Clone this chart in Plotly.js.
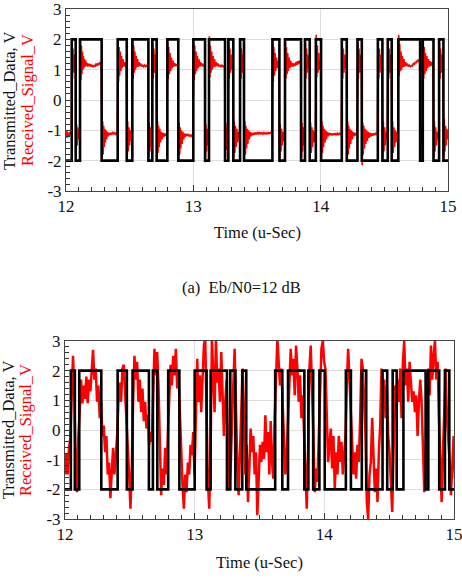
<!DOCTYPE html>
<html>
<head>
<meta charset="utf-8">
<script src="https://cdn.plot.ly/plotly-3.0.1.min.js"></script>
<style>
  html, body { margin: 0; padding: 0; background: #fff; }
  #chart { width: 462px; height: 587px; }
</style>
</head>
<body>
<div id="chart"></div>
<script>
// Transmitted bit stream: edge times (u-Sec) and the level held from each edge on
const txTime = [12.000,
  12.045, 12.076, 12.110, 12.280, 12.406, 12.477, 12.521, 12.647, 12.678, 12.712,
  12.796, 12.882, 13.000, 13.092, 13.123, 13.249, 13.275, 13.314, 13.367, 13.398,
  13.621, 13.676, 13.720, 13.846, 13.877, 13.914, 13.962, 14.003, 14.166, 14.205,
  14.289, 14.323, 14.449, 14.485, 14.527, 14.558, 14.610, 14.781, 14.802, 14.886,
  14.930, 14.964,
  15.000];
const txLevel = [-2,
  2, -2, 2, -2, 2, -2, 2, -2, 2, -2,
  2, -2, 2, -2, 2, -2, 2, -2, 2, -2,
  2, -2, 2, -2, 2, -2, 2, -2, 2, -2,
  2, -2, 2, -2, 2, -2, 2, -2, 2, -2,
  2, -2,
  -2];

// Received signal at Eb/N0 = 12 dB: [time (u-Sec), volts]
const receivedA = [
  [12.000,-1.15],[12.004,-1.00],[12.008,-1.25],[12.012,-1.05],[12.016,-1.20],[12.020,-1.10],[12.025,-1.22],[12.030,-1.05],[12.036,-1.15],[12.042,-1.10],
  [12.047,1.95],[12.051,0.70],[12.055,1.70],[12.060,0.90],[12.065,1.50],[12.070,1.20],[12.074,1.30],
  [12.079,-1.60],[12.083,-0.80],[12.088,-1.50],[12.093,-0.90],[12.098,-1.30],[12.103,-1.00],[12.108,-1.20],
  [12.113,1.95],[12.117,0.65],[12.121,1.80],[12.125,0.85],[12.129,1.60],[12.133,1.00],[12.137,1.45],[12.141,1.05],[12.145,1.35],[12.150,1.10],[12.155,1.30],[12.160,1.12],[12.166,1.22],[12.172,1.10],[12.178,1.20],[12.185,1.12],[12.192,1.18],[12.199,1.10],[12.206,1.16],[12.213,1.08],[12.220,1.15],[12.228,1.10],[12.236,1.20],[12.244,1.12],[12.252,1.22],[12.260,1.15],[12.268,1.25],[12.276,1.20],
  [12.284,-1.95],[12.288,-0.70],[12.292,-1.80],[12.296,-0.85],[12.300,-1.55],[12.304,-0.95],[12.309,-1.40],[12.314,-1.00],[12.319,-1.30],[12.325,-1.05],[12.331,-1.20],[12.338,-1.08],[12.345,-1.15],[12.352,-1.08],[12.360,-1.13],[12.368,-1.07],[12.376,-1.12],[12.384,-1.08],[12.392,-1.14],[12.402,-1.10],
  [12.409,1.90],[12.413,0.60],[12.417,1.75],[12.421,0.80],[12.426,1.60],[12.431,0.95],[12.436,1.45],[12.441,1.05],[12.447,1.35],[12.453,1.10],[12.459,1.25],[12.465,1.12],[12.473,1.20],
  [12.480,-2.05],[12.484,-0.70],[12.489,-1.70],[12.494,-0.90],[12.499,-1.50],[12.505,-1.00],[12.511,-1.35],[12.518,-1.10],
  [12.524,1.95],[12.528,0.70],[12.532,1.80],[12.536,0.90],[12.541,1.60],[12.546,1.00],[12.551,1.45],[12.556,1.08],[12.562,1.35],[12.568,1.10],[12.574,1.25],[12.580,1.12],[12.587,1.20],[12.594,1.10],[12.602,1.16],[12.610,1.10],[12.618,1.15],[12.626,1.10],[12.634,1.14],[12.643,1.10],
  [12.650,-1.90],[12.654,-0.75],[12.659,-1.70],[12.664,-0.90],[12.669,-1.50],[12.675,-1.05],
  [12.681,1.90],[12.685,0.70],[12.690,1.70],[12.695,0.90],[12.700,1.50],[12.708,1.05],
  [12.715,-1.90],[12.719,-0.70],[12.723,-1.75],[12.727,-0.85],[12.732,-1.55],[12.737,-0.95],[12.742,-1.40],[12.748,-1.05],[12.754,-1.30],[12.760,-1.08],[12.767,-1.22],[12.774,-1.10],[12.781,-1.18],[12.792,-1.10],
  [12.799,1.90],[12.803,0.70],[12.807,1.75],[12.812,0.85],[12.817,1.55],[12.822,0.95],[12.828,1.40],[12.834,1.05],[12.840,1.30],[12.846,1.10],[12.853,1.22],[12.860,1.12],[12.867,1.18],[12.878,1.10],
  [12.885,-1.95],[12.889,-0.75],[12.893,-1.80],[12.897,-0.90],[12.902,-1.60],[12.907,-1.00],[12.912,-1.45],[12.918,-1.05],[12.924,-1.30],[12.930,-1.10],[12.937,-1.22],[12.944,-1.12],[12.951,-1.18],[12.958,-1.12],[12.966,-1.20],[12.974,-1.14],[12.982,-1.20],[12.990,-1.15],[12.997,-1.18],
  [13.003,1.90],[13.007,0.65],[13.011,1.80],[13.016,0.85],[13.021,1.60],[13.026,0.95],[13.032,1.45],[13.038,1.05],[13.044,1.35],[13.050,1.10],[13.057,1.25],[13.064,1.12],[13.071,1.20],[13.078,1.10],[13.088,1.16],
  [13.095,-2.05],[13.099,-0.80],[13.104,-1.70],[13.109,-0.95],[13.114,-1.50],[13.120,-1.10],
  [13.126,2.10],[13.130,0.75],[13.134,1.80],[13.139,0.90],[13.144,1.60],[13.149,1.00],[13.155,1.45],[13.161,1.08],[13.167,1.35],[13.173,1.10],[13.180,1.25],[13.187,1.12],[13.194,1.20],[13.201,1.10],[13.209,1.16],[13.217,1.10],[13.225,1.15],[13.233,1.10],[13.245,1.13],
  [13.252,-1.90],[13.256,-0.75],[13.261,-1.65],[13.266,-0.95],[13.272,-1.40],
  [13.278,1.90],[13.282,0.70],[13.287,1.70],[13.292,0.90],[13.298,1.50],[13.304,1.00],[13.311,1.30],
  [13.317,-1.90],[13.321,-0.70],[13.326,-1.75],[13.331,-0.85],[13.336,-1.55],[13.342,-0.95],[13.348,-1.40],[13.354,-1.05],[13.363,-1.30],
  [13.370,1.90],[13.374,0.70],[13.379,1.70],[13.384,0.90],[13.389,1.50],[13.395,1.10],
  [13.401,-1.95],[13.405,-0.70],[13.409,-1.80],[13.413,-0.85],[13.418,-1.60],[13.423,-0.95],[13.428,-1.45],[13.434,-1.00],[13.440,-1.30],[13.446,-1.05],[13.453,-1.20],[13.460,-1.08],[13.467,-1.16],[13.475,-1.08],[13.483,-1.14],[13.491,-1.07],[13.499,-1.13],[13.507,-1.07],[13.515,-1.12],[13.523,-1.06],[13.531,-1.12],[13.539,-1.08],[13.547,-1.13],[13.555,-1.07],[13.563,-1.12],[13.571,-1.08],[13.579,-1.13],[13.587,-1.06],[13.595,-1.11],[13.603,-1.07],[13.611,-1.10],[13.618,-1.08],
  [13.624,1.90],[13.628,0.60],[13.632,1.75],[13.637,0.80],[13.642,1.55],[13.647,0.95],[13.653,1.40],[13.659,1.05],[13.665,1.30],[13.672,1.10],
  [13.679,-2.05],[13.683,-0.80],[13.688,-1.70],[13.693,-0.95],[13.698,-1.50],[13.704,-1.05],[13.710,-1.35],[13.717,-1.10],
  [13.723,1.90],[13.727,0.70],[13.731,1.75],[13.736,0.85],[13.741,1.55],[13.746,0.95],[13.752,1.40],[13.758,1.05],[13.764,1.30],[13.770,1.10],[13.777,1.22],[13.784,1.10],[13.791,1.20],[13.798,1.12],[13.805,1.25],[13.812,1.15],[13.819,1.28],[13.826,1.18],[13.833,1.30],[13.842,1.22],
  [13.849,-1.90],[13.853,-0.75],[13.858,-1.70],[13.863,-0.90],[13.868,-1.50],[13.874,-1.05],
  [13.880,1.90],[13.884,0.70],[13.889,1.70],[13.894,0.90],[13.899,1.50],[13.905,1.05],[13.911,1.30],
  [13.917,-1.95],[13.921,-0.75],[13.926,-1.75],[13.931,-0.90],[13.936,-1.55],[13.942,-1.00],[13.948,-1.40],[13.954,-1.05],[13.959,-1.30],
  [13.965,2.15],[13.969,0.75],[13.974,1.80],[13.979,0.90],[13.985,1.55],[13.991,1.00],[13.999,1.30],
  [14.006,-1.90],[14.010,-0.70],[14.014,-1.75],[14.018,-0.85],[14.023,-1.55],[14.028,-0.95],[14.034,-1.40],[14.040,-1.00],[14.046,-1.30],[14.052,-1.05],[14.059,-1.20],[14.066,-1.08],[14.073,-1.16],[14.081,-1.10],[14.089,-1.17],[14.097,-1.10],[14.105,-1.16],[14.113,-1.09],[14.121,-1.15],[14.129,-1.10],[14.137,-1.16],[14.145,-1.10],[14.153,-1.14],[14.162,-1.10],
  [14.169,1.90],[14.173,0.70],[14.178,1.70],[14.183,0.90],[14.189,1.50],[14.195,1.05],[14.202,1.30],
  [14.208,-1.95],[14.212,-0.70],[14.216,-1.80],[14.220,-0.85],[14.225,-1.60],[14.230,-0.95],[14.236,-1.45],[14.242,-1.00],[14.248,-1.30],[14.254,-1.05],[14.261,-1.20],[14.268,-1.08],[14.275,-1.16],[14.285,-1.10],
  [14.292,1.90],[14.296,0.70],[14.301,1.70],[14.306,0.90],[14.312,1.50],[14.319,1.10],
  [14.326,-2.15],[14.330,-0.75],[14.334,-1.80],[14.339,-0.85],[14.344,-1.60],[14.349,-0.95],[14.355,-1.45],[14.361,-1.00],[14.367,-1.35],[14.373,-1.05],[14.380,-1.25],[14.387,-1.08],[14.394,-1.20],[14.401,-1.10],[14.409,-1.18],[14.417,-1.10],[14.425,-1.16],[14.433,-1.10],[14.445,-1.15],
  [14.452,1.90],[14.456,0.70],[14.461,1.70],[14.466,0.90],[14.471,1.50],[14.477,1.05],[14.482,1.30],
  [14.488,-1.90],[14.492,-0.70],[14.497,-1.70],[14.502,-0.90],[14.508,-1.50],[14.514,-1.05],[14.522,-1.30],
  [14.530,1.90],[14.534,0.70],[14.539,1.70],[14.544,0.90],[14.549,1.50],[14.555,1.10],
  [14.561,-1.90],[14.565,-0.70],[14.570,-1.75],[14.575,-0.90],[14.580,-1.55],[14.586,-1.00],[14.592,-1.40],[14.598,-1.05],[14.606,-1.30],
  [14.613,2.15],[14.617,0.80],[14.621,1.85],[14.626,0.95],[14.631,1.60],[14.636,1.00],[14.642,1.45],[14.648,1.08],[14.654,1.35],[14.660,1.10],[14.667,1.25],[14.674,1.12],[14.681,1.20],[14.688,1.10],[14.696,1.15],[14.704,1.10],[14.712,1.14],[14.720,1.12],[14.728,1.20],[14.736,1.16],[14.744,1.26],[14.752,1.22],[14.760,1.32],[14.768,1.28],[14.777,1.35],
  [14.784,-1.90],[14.788,-0.80],[14.793,-1.60],[14.799,-1.00],
  [14.805,1.90],[14.809,0.70],[14.813,1.75],[14.818,0.85],[14.823,1.55],[14.828,0.95],[14.834,1.45],[14.840,1.05],[14.846,1.35],[14.852,1.10],[14.859,1.28],[14.866,1.12],[14.873,1.25],[14.882,1.15],
  [14.889,-1.90],[14.893,-0.70],[14.898,-1.70],[14.903,-0.90],[14.909,-1.50],[14.915,-1.05],[14.921,-1.30],[14.927,-1.10],
  [14.933,1.90],[14.937,0.70],[14.942,1.70],[14.947,0.90],[14.952,1.50],[14.960,1.10],
  [14.967,-1.90],[14.971,-0.60],[14.976,-1.70],[14.981,-0.85],[14.986,-1.50],[14.991,-0.95],[14.996,-1.30],[15.000,-1.00]
];

// Received signal at the lower Eb/N0: evenly sampled from 12 u-Sec
const receivedBStart = 12.0;
const receivedBStep = 0.0103;
const receivedB = [
  -1.5,-0.8,-1.5,-0.6,-0.3,1.5,2.5,1.2,-1.2,-2.1,-0.2,0.6,1.7,0.9,1.5,1.05,1.8,0.9,1.7,1.3,
  2.2,2.7,1.7,2.07,0.95,1.5,0.4,0.95,-0.2,0.15,-0.75,-0.2,-1.5,-1.1,-2.3,-1.3,-0.6,-1.5,-0.85,-0.2,
  0.95,1.6,0.95,2.07,2.2,1.3,0.7,-0.4,-1.5,-2.65,-1.3,0.95,2.5,1.7,2.3,0.95,1.7,0.6,1.4,0.3,
  0.95,0.05,0.5,-0.5,-0.07,-0.4,0.95,2.74,1.84,2.63,1.5,-0.75,-2.2,-1.3,-1.85,-0.6,-1.5,-0.2,0.95,2.2,
  1.5,2.5,1.84,2.74,1.4,1.95,0.6,-0.75,-1.85,-2.65,-1.5,-2.1,-1.1,-1.5,-0.5,-0.85,-0.07,
  -1.5,0.4,2.4,0.95,1.84,0.6,1.7,2.85,3.1,0.4,-1.75,-2.65,-0.75,3.1,1.7,0.6,3.1,1.6,2.07,0.95,
  2.63,1.5,-0.2,0.95,1.7,-0.2,-2.0,-1.3,-0.2,1.5,2.74,0.4,-1.08,-2.2,-0.75,0.95,2.07,0.7,-1.5,-0.5,
  -2.43,-1.3,0.05,-0.75,-0.2,-1.5,-0.75,-2.87,-1.3,-0.5,-1.08,-0.4,-0.97,0.5,-0.75,-0.07,-1.5,0.3,-1.08,-1.64,
  0.4,1.84,3.1,2.29,1.5,2.07,0.95,-0.2,-1.5,-0.85,0.4,1.5,2.74,1.84,2.4,1.17,2.85,2.07,0.95,1.84,
  0.4,1.17,-0.2,-1.64,-2.65,-0.75,2.07,2.85,1.5,-0.2,-2.1,-1.3,-1.75,-0.2,0.95,2.74,3.0,2.3,
  2.07,0.4,-1.08,-0.5,0.05,-1.3,-0.2,-2.0,-0.75,-1.5,-0.2,-1.08,-0.4,-1.5,-0.97,-0.2,1.5,2.74,1.7,0.4,
  -0.2,-1.5,-0.75,-1.64,-0.5,-1.08,0.4,2.4,2.07,0.95,-0.2,-2.43,-3.0,-1.5,-1.08,0.4,-1.08,-2.1,-1.3,-2.43,
  -0.75,0.15,2.07,0.95,1.7,0.4,1.5,-0.2,-0.75,-1.85,-2.76,-0.75,1.5,0.4,1.7,0.95,2.07,0.4,2.3,3.0,
  1.5,2.07,0.95,2.3,1.5,0.95,1.3,0.6,1.17,-0.2,0.95,1.7,0.95,-0.75,-2.1,-1.08,1.5,2.07,1.17,2.85,
  1.7,2.5,3.0,1.7,2.3,0.4,-1.3,-2.43,-0.75,1.17,2.07,0.4,-0.2,-1.08,-2.2,-1.3,-0.2,-1.64
];

const xTicks = [12, 13, 14, 15];
const xTickText = ['12', '13', '14', '15'];
const yTicks = [-3, -2, -1, 0, 1, 2, 3];
const yTickText = ['-3', '-2', '-1', '0', '1', '2', '3'];

const serif = "'Liberation Serif', 'Times New Roman', Times, serif";
const W = 462, H = 587;
const px = v => v / W;
const py = v => 1 - v / H;

function xAxis(x0, x1, anchor) {
  return {
    domain: [px(x0), px(x1)], anchor: anchor, range: [12, 15],
    tickmode: 'array', tickvals: xTicks, ticktext: xTickText,
    ticks: 'inside', ticklen: 6, tickwidth: 1, tickcolor: '#333',
    showline: true, linecolor: '#444', linewidth: 1, mirror: true,
    showgrid: true, gridcolor: '#dddddd', gridwidth: 1, zeroline: false,
    tickfont: { family: serif, size: 17, color: '#111' },
    ticklabeloverflow: 'allow',
    minor: { tick0: 12, dtick: 0.1, ticks: 'inside', ticklen: 4, tickcolor: '#333', showgrid: false },
    fixedrange: true
  };
}
function yAxis(y0, y1, anchor) {
  return {
    domain: [py(y1), py(y0)], anchor: anchor, range: [-3, 3],
    tickmode: 'array', tickvals: yTicks, ticktext: yTickText,
    ticks: 'inside', ticklen: 6, tickwidth: 1, tickcolor: '#333',
    showline: true, linecolor: '#444', linewidth: 1, mirror: true,
    showgrid: true, gridcolor: '#dddddd', gridwidth: 1, zeroline: false,
    tickfont: { family: serif, size: 17, color: '#111' },
    ticklabeloverflow: 'allow',
    minor: { tick0: -3, dtick: 0.2, ticks: 'inside', ticklen: 4, tickcolor: '#333', showgrid: false },
    fixedrange: true
  };
}

const traces = [
  { x: receivedA.map(p => p[0]), y: receivedA.map(p => p[1]), xaxis: 'x', yaxis: 'y',
    type: 'scatter', mode: 'lines', line: { color: '#ff0000', width: 1.6 }, hoverinfo: 'skip' },
  { x: txTime, y: txLevel, xaxis: 'x', yaxis: 'y', type: 'scatter', mode: 'lines',
    line: { color: '#000000', width: 2.6, shape: 'hv' }, hoverinfo: 'skip' },
  { y: receivedB, x0: receivedBStart, dx: receivedBStep, xaxis: 'x2', yaxis: 'y2',
    type: 'scatter', mode: 'lines', line: { color: '#ff0000', width: 2.5 }, hoverinfo: 'skip' },
  { x: txTime, y: txLevel, xaxis: 'x2', yaxis: 'y2', type: 'scatter', mode: 'lines',
    line: { color: '#000000', width: 2.6, shape: 'hv' }, hoverinfo: 'skip' }
];

function label(text, x, y, size, color, angle) {
  return { text: text, x: px(x), y: py(y), xref: 'paper', yref: 'paper',
    xanchor: 'center', yanchor: 'middle', showarrow: false, textangle: angle || 0,
    font: { family: serif, size: size, color: color } };
}

const layout = {
  width: W, height: H,
  margin: { l: 0, r: 0, t: 0, b: 0 },
  paper_bgcolor: '#ffffff', plot_bgcolor: '#ffffff',
  font: { family: serif },
  showlegend: false,
  xaxis: xAxis(66, 448, 'y'),
  yaxis: yAxis(9, 191, 'x'),
  xaxis2: xAxis(65, 454, 'y2'),
  yaxis2: yAxis(341, 519, 'x2'),
  annotations: [
    label('Transmitted_Data, V', 9, 101, 16.5, '#111', -90),
    label('Received_Signal_V', 27, 100, 16.5, '#ff0000', -90),
    label('Time (u-Sec)', 257, 233, 16.5, '#111'),
    label('(a)\u00a0\u00a0Eb/N0=12 dB', 241, 288, 16.5, '#111'),
    label('Transmitted_Data, V', 8, 430, 16.5, '#111', -90),
    label('Received_Signal_V', 25, 430, 16.5, '#ff0000', -90),
    label('Time (u-Sec)', 259, 562, 16.5, '#111')
  ]
};

Plotly.newPlot('chart', traces, layout, { staticPlot: true, displayModeBar: false });
</script>
</body>
</html>
